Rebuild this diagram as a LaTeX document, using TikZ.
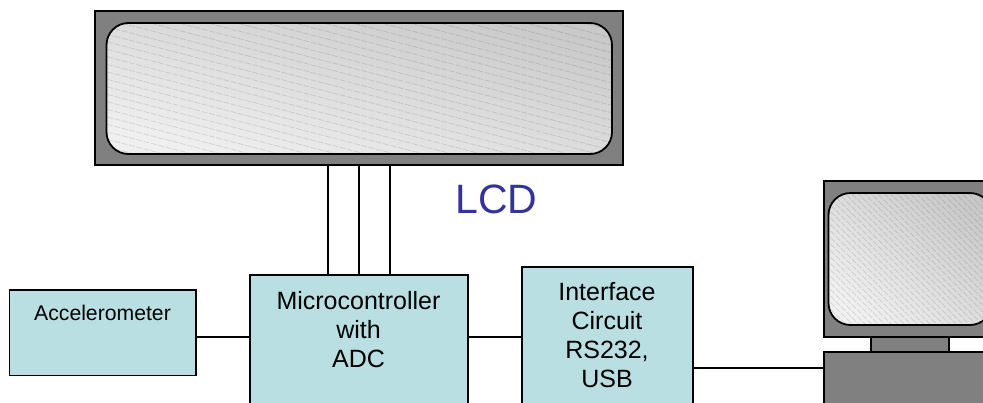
\documentclass[tikz,border=0pt]{standalone}
\usepackage{fontspec}
\setmainfont{Liberation Sans}
\definecolor{blockblue}{HTML}{B9DFE3}
\definecolor{lcdblue}{HTML}{333399}
\tikzset{
  blockbox/.style={draw=black,line width=1.8pt,fill=blockblue,anchor=north west,inner sep=0pt,outer sep=0pt},
  casebox/.style={draw=black,line width=1.8pt,fill=black!50,anchor=north west,inner sep=0pt,outer sep=0pt},
  blocktext/.style={align=center,inner sep=0pt,font=\fontsize{25}{29}\selectfont},
  wire/.style={line width=1.8pt},
  glass/.style={rounded corners=22pt,top color=black!21,bottom color=black!6},
  glassedge/.style={rounded corners=22pt,draw=black,line width=1.8pt},
  hatch/.style={black,opacity=0.1,line width=0.8pt,dash pattern=on 6pt off 1.5pt}
}
\begin{document}
\begin{tikzpicture}[x=1pt,y=-1pt]
  \path[use as bounding box,clip] (0,0) rectangle (983,402);

  % lcd panel
  \node[casebox,minimum width=528pt,minimum height=154pt] (lcd) at (95,11) {};
  \path[glass,shading angle=-14.5] (106.5,23) rectangle (612,154);
  \begin{scope}
    \clip[rounded corners=22pt] (106.5,23) rectangle (612,154);
    \foreach \y in {-140,-132.5,...,160}
      \draw[hatch] (100,\y) -- (620,\y+135);
  \end{scope}
  \draw[glassedge] (106.5,23) rectangle (612,154);
  \node[text=lcdblue,inner sep=0pt,anchor=base,font=\fontsize{41}{41}\selectfont] (lcdtext) at (496.5,213) {LCD};

  % blocks
  \node[blockbox,minimum width=186.5pt,minimum height=85.5pt] (accel) at (9.5,290) {};
  \node[blockbox,minimum width=218pt,minimum height=150pt] (mcu) at (250,275) {};
  \node[blockbox,minimum width=171pt,minimum height=160pt] (iface) at (522,267) {};
  \node[blocktext,anchor=base,font=\fontsize{21.2}{25}\selectfont] (acceltext) at (102.5,320) {Accelerometer};
  \node[blocktext,anchor=base] (mcutext) at (358.5,367) {Microcontroller\\with\\ADC};
  \node[blocktext,anchor=base] (ifacetext) at (607,387) {Interface\\Circuit\\RS232,\\USB};

  % computer
  \node[casebox,minimum width=200pt,minimum height=156pt] (monitor) at (824,181) {};
  \path[glass,shading angle=-40] (828.5,193) rectangle (992,325);
  \begin{scope}
    \clip[rounded corners=22pt] (828.5,193) rectangle (992,325);
    \foreach \y in {-20,-13.5,...,340}
      \draw[hatch] (820,\y) -- (1000,\y+180);
  \end{scope}
  \draw[glassedge] (828.5,193) rectangle (992,325);
  \node[casebox,minimum width=78pt,minimum height=15pt] (neck) at (871,337) {};
  \node[casebox,minimum width=200pt,minimum height=70pt] (base) at (824,352) {};

  % connections
  \foreach \x in {328,359,390}
    \draw[wire] (lcd.south -| \x,0) -- (mcu.north -| \x,0);
  \draw[wire] (accel.east |- 0,337) -- (mcu.west |- 0,337);
  \draw[wire] (mcu.east |- 0,337) -- (iface.west |- 0,337);
  \draw[wire] (iface.east |- 0,368) -- (base.west |- 0,368);
\end{tikzpicture}
\end{document}
